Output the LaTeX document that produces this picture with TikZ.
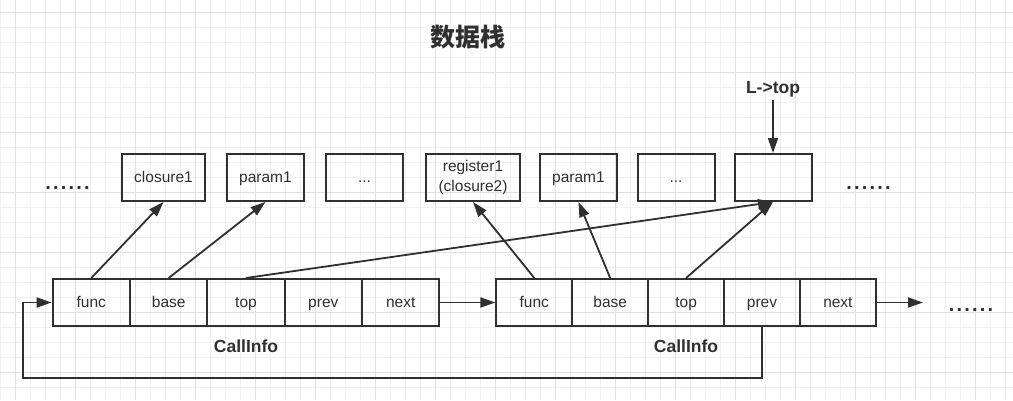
\documentclass[tikz,border=0pt]{standalone}
\usepackage{fontspec}
\setmainfont{Liberation Sans}
\newfontfamily\cjk{Noto Sans CJK SC}
\newfontfamily\dotfont[LetterSpace=11]{Liberation Sans Bold}
\usetikzlibrary{arrows.meta}
\definecolor{ink}{HTML}{303030}
\definecolor{gridminor}{HTML}{F0F0F0}
\definecolor{gridmajor}{HTML}{E0E0E0}

\begin{document}
\begin{tikzpicture}[x=1pt,y=-1pt,>={Triangle[length=15pt,width=10pt]},
    cell/.style={draw=ink,line width=2pt,minimum width=77pt,minimum height=47pt,inner sep=0pt,text=ink,text height=12pt,text depth=2pt,font=\fontsize{15.5}{20}\selectfont},
    link/.style={->,draw=ink,line width=1.8pt},
    label/.style={text=ink,font=\bfseries\fontsize{17.5}{20}\selectfont},
    dots/.style={text=ink,anchor=base,font=\dotfont\fontsize{20}{22}\selectfont}]
        % background grid
        \useasboundingbox (0,0) rectangle (1013,400);
        \fill[white] (0,0) rectangle (1013,400);
        \foreach \gx in {0,15,...,1010} \draw[gridminor,line width=1pt] (\gx,0) -- (\gx,400);
        \foreach \gy in {12,27,...,397} \draw[gridminor,line width=1pt] (0,\gy) -- (1013,\gy);
        \foreach \gx in {15,75,...,1010} \draw[gridmajor,line width=1pt] (\gx,0) -- (\gx,400);
        \foreach \gy in {12,72,...,397} \draw[gridmajor,line width=1pt] (0,\gy) -- (1013,\gy);
        % title
        \node[text=ink,font=\cjk\bfseries\fontsize{25}{30}\selectfont] (title) at (468,37) {数据栈};
        % stack slots
        \node[dots] (d1) at (67.5,189.5) {......};
        \node[cell,minimum width=83pt] (r1c1) at (163.5,177.5) {closure1};
        \node[cell] (r1c2) at (265.5,177.5) {param1};
        \node[cell] (r1c3) at (364.5,177.5) {...};
        \node[cell,minimum width=94pt,align=center,text height=,text depth=] (r1c4) at (473,177.5) {register1\\(closure2)};
        \node[cell] (r1c5) at (578.5,177.5) {param1};
        \node[cell] (r1c6) at (676,177.5) {...};
        \node[cell] (r1c7) at (773,177.5) {};
        \node[dots] (d2) at (868.5,189) {......};
        \node[label] (lt) at (773,89) {L->top};
        % CallInfo records
        \node[cell,minimum width=77.3pt] (r2c1) at (91.3,302.5) {func};
        \node[cell,minimum width=77.3pt] (r2c2) at (168.7,302.5) {base};
        \node[cell,minimum width=77.3pt] (r2c3) at (246,302.5) {top};
        \node[cell,minimum width=77.3pt] (r2c4) at (323.3,302.5) {prev};
        \node[cell,minimum width=77.3pt] (r2c5) at (400.7,302.5) {next};
        \node[cell,minimum width=75.9pt] (r2c6) at (534.3,302.5) {func};
        \node[cell,minimum width=75.9pt] (r2c7) at (610.2,302.5) {base};
        \node[cell,minimum width=75.9pt] (r2c8) at (686.1,302.5) {top};
        \node[cell,minimum width=75.9pt] (r2c9) at (762,302.5) {prev};
        \node[cell,minimum width=75.9pt] (r2c10) at (837.9,302.5) {next};
        \node[label] (n1) at (246,346) {CallInfo};
        \node[label] (n2) at (686,346) {CallInfo};
        \node[dots] (d3) at (971,311.5) {......};
        \coordinate (e1) at (923,302.5);
        \coordinate (c1) at (22.7,378.3);
        % pointers
        \draw[link] (r2c1.north) -- (r1c1.south);
        \draw[link] (r2c2.north) -- (r1c2.south);
        \draw[link] (r2c3.north) -- (r1c7.south);
        \draw[link] (r2c6.north) -- (r1c4.south);
        \draw[link] (r2c7.north) -- (r1c5.south);
        \draw[link] (r2c8.north) -- (r1c7.south);
        \draw[link] (lt) -- (r1c7);
        \draw[link] (r2c5) -- (r2c6);
        \draw[link] (r2c10) -- (e1);
        \draw[link] (r2c9.south) |- (c1) |- (r2c1.west);
\end{tikzpicture}
\end{document}
